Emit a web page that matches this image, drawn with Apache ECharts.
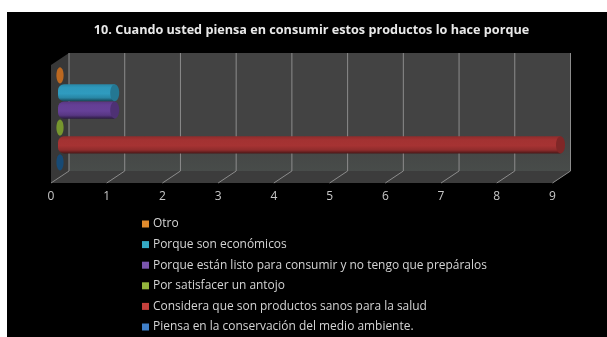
<!DOCTYPE html>
<html>
<head>
<meta charset="utf-8">
<style>html,body{margin:0;padding:0;background:#fff}#chart{width:607px;height:337px}</style>
<script src="https://cdn.jsdelivr.net/npm/echarts@6/dist/echarts.min.js"></script>
</head>
<body>
<div id="chart"></div>
<script>
// Survey answers, listed from the top of the chart downwards
const categories = [
  'Otro',
  'Porque son económicos',
  'Porque están listo para consumir y no tengo que prepáralos',
  'Por satisfacer un antojo',
  'Considera que son productos sanos para la salud',
  'Piensa en la conservación del medio ambiente.'
];
const counts = [0, 1, 1, 0, 9, 0];
const barColors = ['#bc6820', '#2e98bb', '#643f95', '#76962e', '#a33232', '#174a75'];
const legendColors = ['#e08a2c', '#33a8c4', '#7a55ae', '#93b53c', '#c5403c', '#3f7fc8'];
const tickValues = [0, 1, 2, 3, 4, 5, 6, 7, 8, 9];
const titleText = '10. Cuando usted piensa en consumir estos productos lo hace porque';

// Oblique depth of the box: how far the back wall sits from the front edge
const DEPTH_X = 18, DEPTH_Y = -12;

function shade(hex, f) {
  const n = parseInt(hex.slice(1), 16);
  const c = [n >> 16, (n >> 8) & 255, n & 255].map(v => Math.round(Math.min(255, v * f)));
  return `rgb(${c[0]},${c[1]},${c[2]})`;
}

// Left wall, back wall and floor of the box
function renderBox(params, api) {
  const g = params.coordSys;
  const l = g.x, r = g.x + g.width, t = g.y, b = g.y + g.height;
  const poly = (points, fill) => ({ type: 'polygon', shape: { points }, style: { fill } });
  return {
    type: 'group',
    children: [
      { type: 'rect', shape: { x: l + DEPTH_X, y: t + DEPTH_Y, width: g.width, height: g.height },
        style: { fill: new echarts.graphic.LinearGradient(0, 0, 0, 1, [
          { offset: 0, color: '#434343' }, { offset: 0.7, color: '#434343' }, { offset: 1, color: '#484c4a' }]) } },
      poly([[l, t], [l + DEPTH_X, t + DEPTH_Y], [l + DEPTH_X, b + DEPTH_Y], [l, b]], '#383838'),
      poly([[l, b], [l + DEPTH_X, b + DEPTH_Y], [r + DEPTH_X, b + DEPTH_Y], [r, b]], '#3c3c3c')
    ]
  };
}

// One gridline per tick: up the back wall and across the floor
function renderTick(params, api) {
  const g = params.coordSys;
  const x = api.coord([api.value(0), 0])[0];
  const t = g.y, b = g.y + g.height;
  return {
    type: 'polyline',
    shape: { points: [[x, b], [x + DEPTH_X, b + DEPTH_Y], [x + DEPTH_X, t + DEPTH_Y]] },
    style: { stroke: '#8c8c8c', lineWidth: 1, fill: null }
  };
}

// Horizontal cylinder: shaded body with an elliptical end cap
function renderCylinder(params, api) {
  const value = api.value(0), color = api.style().fill;
  const start = api.coord([0, api.value(1)]);
  const end = api.coord([value, api.value(1)]);
  const h = api.size([0, 1])[1] * 0.98;
  const rx = 4.5, ry = h / 2;
  const gradient = new echarts.graphic.LinearGradient(0, 0, 0, 1, [
    { offset: 0, color: shade(color, 0.88) },
    { offset: 0.2, color: shade(color, 1) },
    { offset: 0.55, color: shade(color, 1.02) },
    { offset: 0.8, color: shade(color, 0.88) },
    { offset: 1, color: shade(color, 0.45) }
  ]);
  const children = [];
  if (value > 0) {
    children.push({
      type: 'rect',
      shape: { x: start[0] - 1, y: start[1] - ry, width: end[0] - start[0] + 1, height: h, r: [ry * 0.7, 0, 0, ry * 0.7] },
      style: { fill: gradient }
    });
    children.push({
      type: 'ellipse',
      shape: { cx: end[0], cy: end[1], rx, ry },
      style: { fill: shade(color, 0.78) }
    });
  } else {
    children.push({
      type: 'ellipse',
      shape: { cx: end[0] + 1, cy: end[1], rx: 3.6, ry: ry * 0.95 },
      style: { fill: color }
    });
  }
  return { type: 'group', children };
}

const chart = echarts.init(document.getElementById('chart'), null, { renderer: 'canvas' });

const cylinderSeries = categories.map((name, i) => ({
  name,
  type: 'custom',
  coordinateSystem: 'cartesian2d',
  xAxisIndex: 1,
  yAxisIndex: 1,
  z: 5,
  itemStyle: { color: barColors[i] },
  encode: { x: 0, y: 1 },
  data: [[counts[i], name]],
  renderItem: renderCylinder
}));

chart.setOption({
  animation: false,
  backgroundColor: '#ffffff',
  graphic: [{ type: 'rect', left: 7, top: 12, z: -10, silent: true,
    shape: { width: 600, height: 325 }, style: { fill: '#000000' } }],
  title: {
    text: titleText,
    left: 306.5, top: 19, textAlign: 'center',
    textStyle: { color: '#e8e8e8', fontFamily: 'Open Sans', fontWeight: 'bold', fontSize: 12.65 }
  },
  grid: [
    { left: 51, top: 65, width: 501.5, height: 118 },
    { left: 59, top: 66.6, width: 501.5, height: 104.4 }
  ],
  xAxis: [
    { gridIndex: 0, type: 'value', min: 0, max: 9, interval: 1,
      axisLine: { show: false }, axisTick: { show: false }, splitLine: { show: false },
      axisLabel: { color: '#c8c8c8', fontFamily: 'Open Sans', fontSize: 12, margin: 8,
        showMinLabel: true, showMaxLabel: true } },
    { gridIndex: 1, type: 'value', min: 0, max: 9, interval: 1, show: false }
  ],
  yAxis: [
    { gridIndex: 0, type: 'value', min: 0, max: 1, show: false },
    { gridIndex: 1, type: 'category', inverse: true, data: categories, show: false }
  ],
  legend: {
    show: true,
    orient: 'vertical',
    left: 137, top: 213, height: 124, width: 460,
    data: categories.map((name, i) => ({ name, itemStyle: { color: legendColors[i] } })),
    icon: 'rect',
    itemWidth: 7, itemHeight: 7, itemGap: 8.6,
    selectedMode: false,
    textStyle: { color: '#d4d4d4', fontFamily: 'Open Sans', fontSize: 11.95, padding: [0, 0, 0, -1] }
  },
  series: [
    { type: 'custom', name: 'box', xAxisIndex: 0, yAxisIndex: 0, z: 1, silent: true,
      data: [[0, 0]], renderItem: renderBox },
    { type: 'custom', name: 'ticks', xAxisIndex: 0, yAxisIndex: 0, z: 2, silent: true,
      data: tickValues.map(v => [v, 0]), renderItem: renderTick },
    ...cylinderSeries
  ]
});
</script>
</body>
</html>
